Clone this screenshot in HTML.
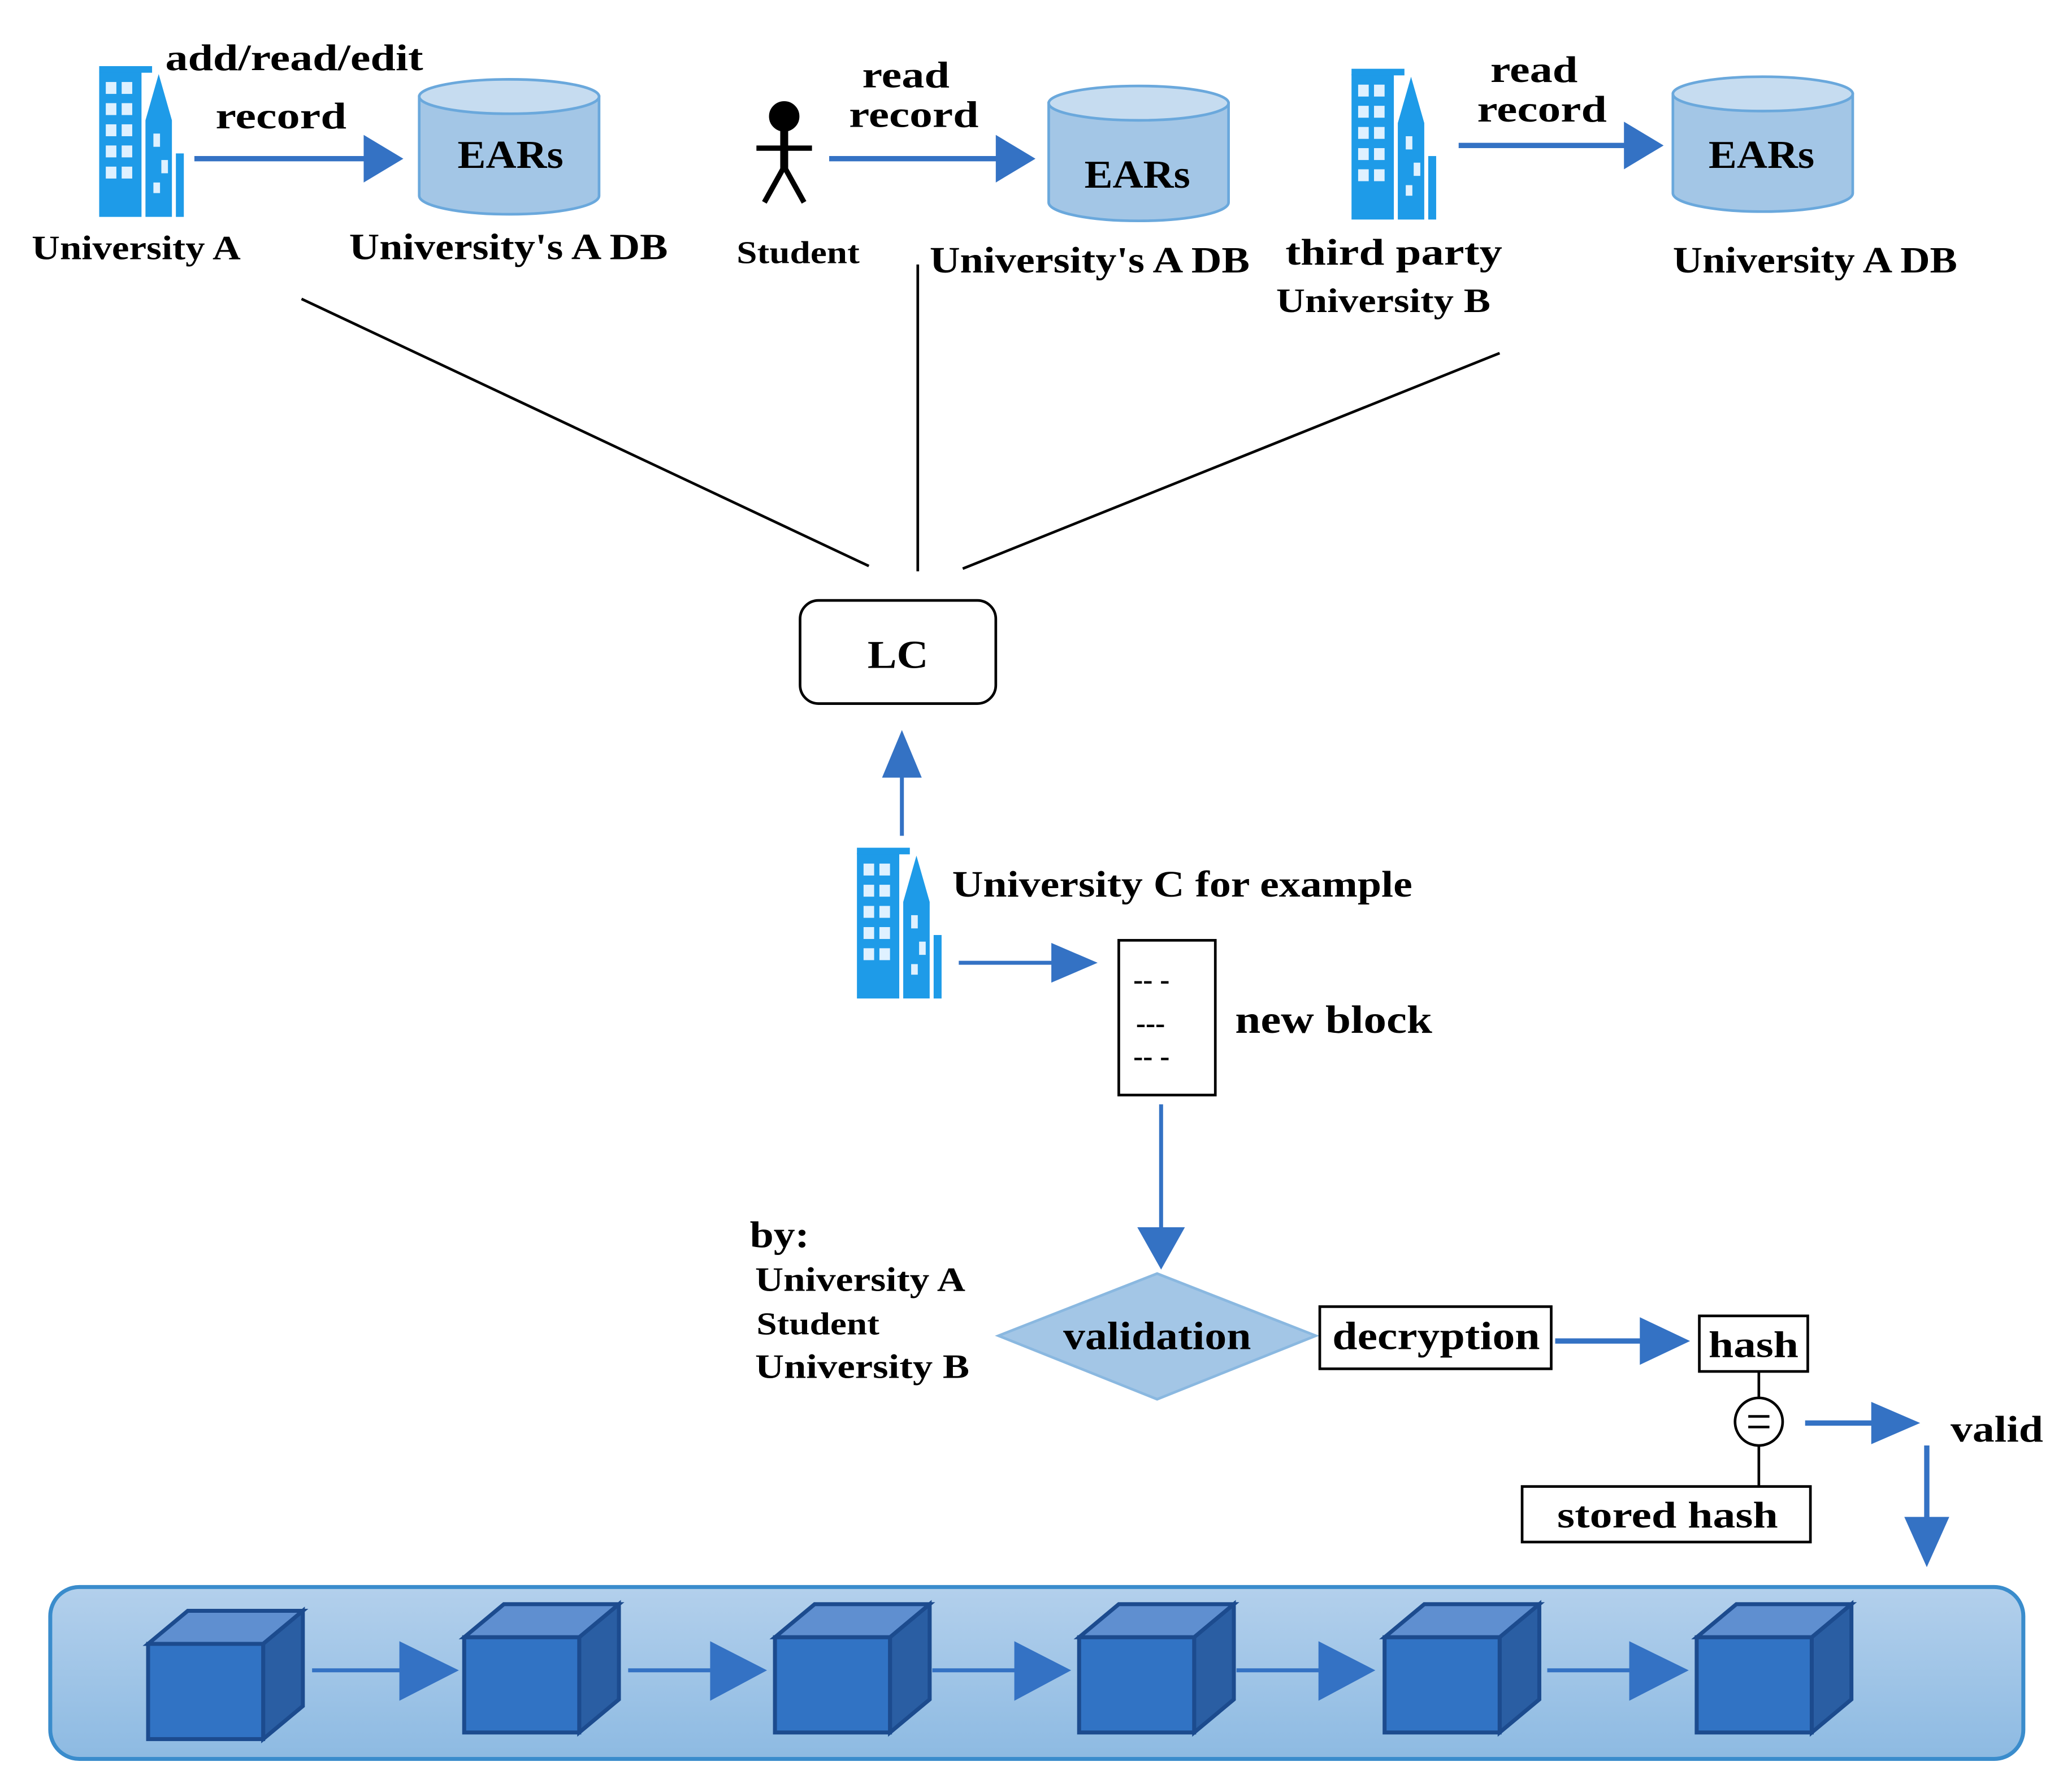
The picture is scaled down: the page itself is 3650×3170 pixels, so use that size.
<!DOCTYPE html>
<html><head><meta charset="utf-8"><style>
html,body{margin:0;padding:0;background:#fff;}
svg{display:block;}
text{font-family:"Liberation Serif",serif;font-weight:bold;fill:#000;}
</style></head><body>
<svg width="3650" height="3170" viewBox="0 0 1560 1355" preserveAspectRatio="none" xmlns="http://www.w3.org/2000/svg">
<defs>
<linearGradient id="bg" x1="0" y1="0" x2="0" y2="1"><stop offset="0" stop-color="#b3d0ec"/><stop offset="1" stop-color="#8dbae2"/></linearGradient>
<g id="bld">
<rect x="0" y="8" width="32" height="110" fill="#1e9be8"/>
<rect x="0" y="4" width="40" height="5" fill="#1e9be8"/>
<path d="M35 118 V45 L45 10 L55 45 V118 Z" fill="#1e9be8"/>
<rect x="58" y="70" width="6" height="48" fill="#1e9be8"/>
<g fill="#dff1ff">
<rect x="5" y="16" width="8" height="9"/><rect x="17" y="16" width="8" height="9"/>
<rect x="5" y="32" width="8" height="9"/><rect x="17" y="32" width="8" height="9"/>
<rect x="5" y="48" width="8" height="9"/><rect x="17" y="48" width="8" height="9"/>
<rect x="5" y="64" width="8" height="9"/><rect x="17" y="64" width="8" height="9"/>
<rect x="5" y="80" width="8" height="9"/><rect x="17" y="80" width="8" height="9"/>
<rect x="41" y="55" width="5" height="10"/><rect x="47" y="75" width="5" height="10"/><rect x="41" y="92" width="5" height="8"/>
</g>
</g>
<g id="cyl">
<path d="M0 15 V90 A68 14 0 0 0 136 90 V15 Z" fill="#a3c6e6" stroke="#6aa8dc" stroke-width="2"/>
<ellipse cx="68" cy="15" rx="68" ry="13" fill="#c6dcf0" stroke="#6aa8dc" stroke-width="2"/>
</g>
<g id="cube">
<path d="M0 25 L30 0 H117 L87 25 Z" fill="#5f8fd0" stroke="#1c4b8e" stroke-width="3"/>
<path d="M87 25 L117 0 V72 L87 97 Z" fill="#2a5ea3" stroke="#1c4b8e" stroke-width="3"/>
<rect x="0" y="25" width="87" height="72" fill="#3173c4" stroke="#1c4b8e" stroke-width="3"/>
</g>
</defs>

<use href="#bld" x="75" y="46"/>
<use href="#cyl" x="317" y="58"/>
<text x="386" y="127" font-size="30" text-anchor="middle" textLength="80" lengthAdjust="spacingAndGlyphs">EARs</text>
<line x1="147" y1="120" x2="278" y2="120" stroke="#3472c4" stroke-width="4"/>
<polygon points="275,102 305,120 275,138" fill="#3472c4"/>
<text x="125" y="53" font-size="28" textLength="195" lengthAdjust="spacingAndGlyphs">add/read/edit</text>
<text x="163" y="97" font-size="28" textLength="99" lengthAdjust="spacingAndGlyphs">record</text>
<text x="24" y="196" font-size="26" textLength="158" lengthAdjust="spacingAndGlyphs">University A</text>
<text x="264" y="196" font-size="28" textLength="241" lengthAdjust="spacingAndGlyphs">University's A DB</text>

<g fill="#000" stroke="#000">
<circle cx="593" cy="88" r="11"/>
<line x1="593" y1="98" x2="593" y2="128" stroke-width="6"/>
<line x1="572" y1="112" x2="614" y2="112" stroke-width="4"/>
<line x1="593" y1="126" x2="578" y2="153" stroke-width="4"/>
<line x1="593" y1="126" x2="608" y2="153" stroke-width="4"/>
</g>
<use href="#cyl" x="793" y="63"/>
<text x="860" y="142" font-size="30" text-anchor="middle" textLength="80" lengthAdjust="spacingAndGlyphs">EARs</text>
<line x1="627" y1="120" x2="756" y2="120" stroke="#3472c4" stroke-width="4"/>
<polygon points="753,102 783,120 753,138" fill="#3472c4"/>
<text x="652" y="66" font-size="28" textLength="66" lengthAdjust="spacingAndGlyphs">read</text>
<text x="642" y="96" font-size="28" textLength="98" lengthAdjust="spacingAndGlyphs">record</text>
<text x="557" y="199" font-size="24" textLength="93" lengthAdjust="spacingAndGlyphs">Student</text>
<text x="703" y="206" font-size="28" textLength="242" lengthAdjust="spacingAndGlyphs">University's A DB</text>

<use href="#bld" x="1022" y="48"/>
<use href="#cyl" x="1265" y="56"/>
<text x="1332" y="127" font-size="30" text-anchor="middle" textLength="80" lengthAdjust="spacingAndGlyphs">EARs</text>
<line x1="1103" y1="110" x2="1231" y2="110" stroke="#3472c4" stroke-width="4"/>
<polygon points="1228,92 1258,110 1228,128" fill="#3472c4"/>
<text x="1127" y="62" font-size="28" textLength="66" lengthAdjust="spacingAndGlyphs">read</text>
<text x="1117" y="92" font-size="28" textLength="98" lengthAdjust="spacingAndGlyphs">record</text>
<text x="972" y="200" font-size="28" textLength="164" lengthAdjust="spacingAndGlyphs">third party</text>
<text x="965" y="236" font-size="26" textLength="162" lengthAdjust="spacingAndGlyphs">University B</text>
<text x="1265" y="206" font-size="28" textLength="215" lengthAdjust="spacingAndGlyphs">University A DB</text>

<g stroke="#000" stroke-width="2">
<line x1="228" y1="226" x2="657" y2="428"/>
<line x1="694" y1="200" x2="694" y2="432"/>
<line x1="1134" y1="267" x2="728" y2="430"/>
</g>
<rect x="605" y="454" width="148" height="78" rx="14" fill="#fff" stroke="#000" stroke-width="2"/>
<text x="679" y="505" font-size="30" text-anchor="middle" textLength="46" lengthAdjust="spacingAndGlyphs">LC</text>

<line x1="682" y1="632" x2="682" y2="585" stroke="#3472c4" stroke-width="3"/>
<polygon points="667,588 682,552 697,588" fill="#3472c4"/>
<use href="#bld" x="648" y="637"/>
<text x="720" y="678" font-size="28" textLength="348" lengthAdjust="spacingAndGlyphs">University C for example</text>
<line x1="725" y1="728" x2="798" y2="728" stroke="#3472c4" stroke-width="3"/>
<polygon points="795,713 830,728 795,743" fill="#3472c4"/>
<rect x="846" y="711" width="73" height="117" fill="#fff" stroke="#000" stroke-width="2"/>
<text x="857" y="748" font-size="22">-- -</text>
<text x="859" y="781" font-size="22">---</text>
<text x="857" y="806" font-size="22">-- -</text>
<text x="934" y="781" font-size="30" textLength="149" lengthAdjust="spacingAndGlyphs">new block</text>

<line x1="878" y1="835" x2="878" y2="930" stroke="#3472c4" stroke-width="3"/>
<polygon points="860,928 878,960 896,928" fill="#3472c4"/>
<text x="567" y="943" font-size="28" textLength="45" lengthAdjust="spacingAndGlyphs">by:</text>
<text x="571" y="976" font-size="26" textLength="159" lengthAdjust="spacingAndGlyphs">University A</text>
<text x="572" y="1009" font-size="24" textLength="93" lengthAdjust="spacingAndGlyphs">Student</text>
<text x="571" y="1042" font-size="26" textLength="162" lengthAdjust="spacingAndGlyphs">University B</text>

<polygon points="755,1010 875,963 995,1010 875,1058" fill="#a3c6e6" stroke="#8ab8e0" stroke-width="2"/>
<text x="875" y="1020" font-size="30" text-anchor="middle" textLength="142" lengthAdjust="spacingAndGlyphs">validation</text>
<rect x="998" y="988" width="175" height="47" fill="#fff" stroke="#000" stroke-width="2"/>
<text x="1086" y="1020" font-size="30" text-anchor="middle" textLength="157" lengthAdjust="spacingAndGlyphs">decryption</text>
<line x1="1176" y1="1014" x2="1243" y2="1014" stroke="#3472c4" stroke-width="4"/>
<polygon points="1240,996 1278,1014 1240,1032" fill="#3472c4"/>
<rect x="1285" y="995" width="82" height="42" fill="#fff" stroke="#000" stroke-width="2"/>
<text x="1326" y="1026" font-size="28" text-anchor="middle" textLength="68" lengthAdjust="spacingAndGlyphs">hash</text>
<line x1="1330" y1="1037" x2="1330" y2="1124" stroke="#000" stroke-width="2"/>
<circle cx="1330" cy="1075" r="18" fill="#fff" stroke="#000" stroke-width="2"/>
<line x1="1322" y1="1071" x2="1338" y2="1071" stroke="#000" stroke-width="2"/>
<line x1="1322" y1="1079" x2="1338" y2="1079" stroke="#000" stroke-width="2"/>
<rect x="1151" y="1124" width="218" height="42" fill="#fff" stroke="#000" stroke-width="2"/>
<text x="1261" y="1155" font-size="28" text-anchor="middle" textLength="167" lengthAdjust="spacingAndGlyphs">stored hash</text>
<line x1="1365" y1="1076" x2="1418" y2="1076" stroke="#3472c4" stroke-width="4"/>
<polygon points="1415,1060 1452,1076 1415,1092" fill="#3472c4"/>
<text x="1475" y="1090" font-size="28" textLength="70" lengthAdjust="spacingAndGlyphs">valid</text>
<line x1="1457" y1="1093" x2="1457" y2="1150" stroke="#3472c4" stroke-width="4"/>
<polygon points="1440,1147 1457,1185 1474,1147" fill="#3472c4"/>

<rect x="38" y="1200" width="1492" height="130" rx="22" fill="url(#bg)" stroke="#3a8ccc" stroke-width="3"/>
<g stroke="#3472c4" stroke-width="3">
<line x1="236" y1="1263" x2="305" y2="1263"/>
<line x1="475" y1="1263" x2="540" y2="1263"/>
<line x1="705" y1="1263" x2="770" y2="1263"/>
<line x1="935" y1="1263" x2="1000" y2="1263"/>
<line x1="1170" y1="1263" x2="1235" y2="1263"/>
</g>
<g fill="#3472c4">
<polygon points="302,1241 347,1263 302,1286"/>
<polygon points="537,1241 580,1263 537,1286"/>
<polygon points="767,1241 810,1263 767,1286"/>
<polygon points="997,1241 1040,1263 997,1286"/>
<polygon points="1232,1241 1277,1263 1232,1286"/>
</g>
<use href="#cube" x="112" y="1218"/>
<use href="#cube" x="351" y="1213"/>
<use href="#cube" x="586" y="1213"/>
<use href="#cube" x="816" y="1213"/>
<use href="#cube" x="1047" y="1213"/>
<use href="#cube" x="1283" y="1213"/>
</svg>
</body></html>
